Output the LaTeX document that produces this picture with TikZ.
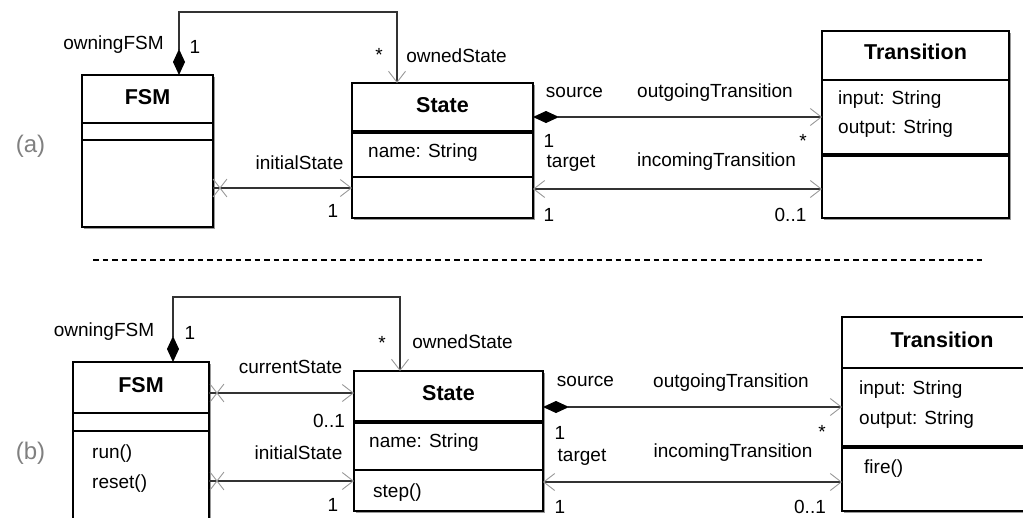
\documentclass[tikz,border=0pt]{standalone}
\usepackage{fontspec}
\setmainfont{Liberation Sans}
\usepackage{tikz}
\usetikzlibrary{arrows.meta,shapes.misc,shadows}

\begin{document}
\begin{tikzpicture}[
    x=1pt, y=-1pt,
    umlclass/.style={draw, fill=white, anchor=north west, inner sep=0pt, outer sep=0pt, line width=1.2pt,
        drop shadow={shadow xshift=1.8pt, shadow yshift=-1.8pt, fill=black!40, opacity=1}},
    ctitle/.style={font=\fontsize{21.5}{24}\selectfont\bfseries, inner sep=0pt},
    attr/.style={anchor=west, font=\fontsize{19}{22}\selectfont, inner sep=0pt, text height=13.7pt, text depth=4pt},
    lbl/.style={font=\fontsize{19}{22}\selectfont, inner sep=0pt, text height=13.7pt, text depth=4pt},
    panel/.style={font=\fontsize{24}{28}\selectfont, text=black!50, inner sep=0pt},
    compline/.style={line width=1.2pt},
    thickline/.style={line width=3.2pt},
    conn/.style={line width=1.1pt, draw=black!80},
    navarrow/.style={conn, -{Straight Barb[length=11pt, width=17pt, line width=0.9pt, color=black!40]}},
    bidir/.style={conn, {Straight Barb[length=11pt, width=17pt, line width=0.9pt, color=black!40]}-{Straight Barb[length=11pt, width=17pt, line width=0.9pt, color=black!40]}},
    composite/.style={conn, {Diamond[length=26pt, width=12pt, color=black, fill=black]}-{Straight Barb[length=11pt, width=17pt, line width=0.9pt, color=black!40]}},
    xmark/.style={cross out, draw=black!40, line width=0.9pt, minimum width=13pt, minimum height=17pt, inner sep=0pt},
    sepline/.style={line width=1.1pt, dash pattern=on 5.5pt off 4pt}
]

\useasboundingbox (0,0) rectangle (1023,517);
\clip (0,0) rectangle (1023,517);

% ---------------- (a) ----------------
\node[panel] (labA) at (30.5,146) {(a)};

% Classes
\node[umlclass, minimum width=131pt, minimum height=152pt] (fsmA) at (82,75) {};
\node[umlclass, minimum width=181pt, minimum height=135pt] (stateA) at (352,83) {};
\node[umlclass, minimum width=187pt, minimum height=187pt] (transA) at (822,31) {};

% Compartments
\draw[compline] ([yshift=-48pt]fsmA.north west) -- ([yshift=-48pt]fsmA.north east);
\draw[compline] ([yshift=-65pt]fsmA.north west) -- ([yshift=-65pt]fsmA.north east);
\draw[thickline] ([yshift=-49pt]stateA.north west) -- ([yshift=-49pt]stateA.north east);
\draw[compline] ([yshift=-94pt]stateA.north west) -- ([yshift=-94pt]stateA.north east);
\draw[compline] ([yshift=-49pt]transA.north west) -- ([yshift=-49pt]transA.north east);
\draw[thickline] ([yshift=-124pt]transA.north west) -- ([yshift=-124pt]transA.north east);

% Titles and attributes
\node[ctitle] (fsmA-t) at ([yshift=-22pt]fsmA.north) {FSM};
\node[ctitle] (stateA-t) at ([yshift=-22pt]stateA.north) {State};
\node[ctitle] (transA-t) at ([yshift=-21pt]transA.north) {Transition};
\node[attr] (stateA-name) at ([xshift=16pt, yshift=-70pt]stateA.north west) {name: String};
\node[attr] (transA-in) at ([xshift=16pt, yshift=-69pt]transA.north west) {input: String};
\node[attr] (transA-out) at ([xshift=16pt, yshift=-98pt]transA.north west) {output: String};

% Associations
\draw[composite] ([xshift=97pt]fsmA.north west) -- ++(0,-63) -| ([xshift=45pt]stateA.north west);
\draw[navarrow] ([yshift=-113pt]fsmA.north east) -- ([yshift=-113pt]fsmA.north east -| stateA.west)
    node[xmark, pos=0, xshift=7pt] {};
\draw[composite] ([yshift=-34pt]stateA.north east) -- ([yshift=-34pt]stateA.north east -| transA.west);
\draw[bidir] ([yshift=-106pt]stateA.north east) -- ([yshift=-106pt]stateA.north east -| transA.west);

% Role names and multiplicities
\node[lbl] (a-owning) at (113.5,45) {owningFSM};
\node[lbl] (a-owning-m) at (195,49) {1};
\node[lbl] (a-owned-m) at (379,57) {*};
\node[lbl] (a-owned) at (456.5,58) {ownedState};
\node[lbl] (a-init) at (299.5,165) {initialState};
\node[lbl] (a-init-m) at (333,213) {1};
\node[lbl] (a-src) at (574.5,93) {source};
\node[lbl] (a-out) at (715,93) {outgoingTransition};
\node[lbl] (a-src-m) at (549,143) {1};
\node[lbl] (a-out-m) at (803,143) {*};
\node[lbl] (a-tgt) at (571,163) {target};
\node[lbl] (a-in) at (716.5,162) {incomingTransition};
\node[lbl] (a-tgt-m) at (549,217) {1};
\node[lbl] (a-in-m) at (790.5,217) {0..1};

% Separator
\draw[sepline] (93,260) -- (983,260);

% ---------------- (b) ----------------
\node[panel] (labB) at (30.5,453) {(b)};

% Classes
\node[umlclass, minimum width=136pt, minimum height=175pt] (fsmB) at (73,362) {};
\node[umlclass, minimum width=189pt, minimum height=140pt] (stateB) at (354,371) {};
\node[umlclass, minimum width=200pt, minimum height=194pt] (transB) at (842,317) {};

% Compartments
\draw[compline] ([yshift=-51pt]fsmB.north west) -- ([yshift=-51pt]fsmB.north east);
\draw[compline] ([yshift=-69pt]fsmB.north west) -- ([yshift=-69pt]fsmB.north east);
\draw[thickline] ([yshift=-51pt]stateB.north west) -- ([yshift=-51pt]stateB.north east);
\draw[compline] ([yshift=-99pt]stateB.north west) -- ([yshift=-99pt]stateB.north east);
\draw[compline] ([yshift=-51pt]transB.north west) -- ([yshift=-51pt]transB.north east);
\draw[thickline] ([yshift=-130pt]transB.north west) -- ([yshift=-130pt]transB.north east);

% Titles, attributes and operations
\node[ctitle] (fsmB-t) at ([yshift=-23pt]fsmB.north) {FSM};
\node[ctitle] (stateB-t) at ([yshift=-22pt]stateB.north) {State};
\node[ctitle] (transB-t) at ([yshift=-23pt]transB.north) {Transition};
\node[attr] (fsmB-run) at ([xshift=19pt, yshift=-92pt]fsmB.north west) {run()};
\node[attr] (fsmB-reset) at ([xshift=19pt, yshift=-122pt]fsmB.north west) {reset()};
\node[attr] (stateB-name) at ([xshift=15pt, yshift=-72pt]stateB.north west) {name: String};
\node[attr] (stateB-step) at ([xshift=19pt, yshift=-122pt]stateB.north west) {step()};
\node[attr] (transB-in) at ([xshift=17pt, yshift=-73pt]transB.north west) {input: String};
\node[attr] (transB-out) at ([xshift=17pt, yshift=-103pt]transB.north west) {output: String};
\node[attr] (transB-fire) at ([xshift=22pt, yshift=-152pt]transB.north west) {fire()};

% Associations
\draw[composite] ([xshift=100pt]fsmB.north west) -- ++(0,-65) -| ([xshift=46pt]stateB.north west);
\draw[navarrow] ([yshift=-31pt]fsmB.north east) -- ([yshift=-31pt]fsmB.north east -| stateB.west)
    node[xmark, pos=0, xshift=8pt] {};
\draw[navarrow] ([yshift=-119pt]fsmB.north east) -- ([yshift=-119pt]fsmB.north east -| stateB.west)
    node[xmark, pos=0, xshift=8pt] {};
\draw[composite] ([yshift=-36pt]stateB.north east) -- ([yshift=-36pt]stateB.north east -| transB.west);
\draw[bidir] ([yshift=-111pt]stateB.north east) -- ([yshift=-111pt]stateB.north east -| transB.west);

% Role names and multiplicities
\node[lbl] (b-owning) at (104,332) {owningFSM};
\node[lbl] (b-owning-m) at (190,335) {1};
\node[lbl] (b-owned-m) at (382,345) {*};
\node[lbl] (b-owned) at (462.5,344) {ownedState};
\node[lbl] (b-cur) at (290.5,369) {currentState};
\node[lbl] (b-cur-m) at (329,423) {0..1};
\node[lbl] (b-init) at (298.5,455) {initialState};
\node[lbl] (b-init-m) at (333,507) {1};
\node[lbl] (b-src) at (585.5,382) {source};
\node[lbl] (b-out) at (731,383) {outgoingTransition};
\node[lbl] (b-src-m) at (560,435) {1};
\node[lbl] (b-out-m) at (822,434) {*};
\node[lbl] (b-tgt) at (582,457) {target};
\node[lbl] (b-in) at (733,453) {incomingTransition};
\node[lbl] (b-tgt-m) at (560,509) {1};
\node[lbl] (b-in-m) at (810,509) {0..1};

\end{tikzpicture}
\end{document}
